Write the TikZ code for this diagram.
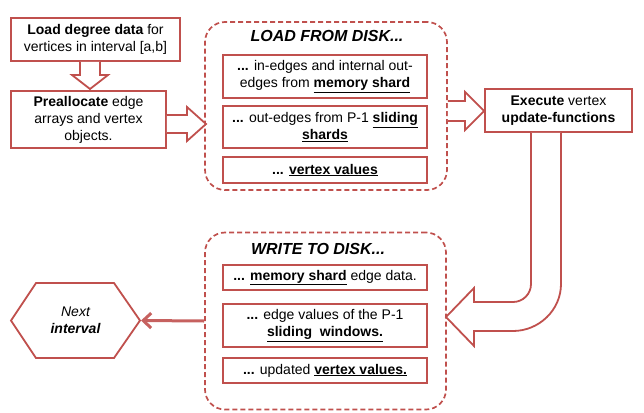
\documentclass[tikz,border=0pt]{standalone}
\usepackage{fontspec}
\setmainfont{Liberation Sans}
\usetikzlibrary{arrows.meta}
\definecolor{brick}{RGB}{192,80,77}
\tikzset{
  stepbox/.style={draw=brick, line width=1.8pt, fill=white, align=center,
    inner sep=0pt, font=\fontsize{14}{17}\selectfont},
  diskgroup/.style={draw=brick, line width=1.7pt, dash pattern=on 5pt off 3pt,
    rounded corners=20pt},
  grouptitle/.style={font=\fontsize{16}{19}\selectfont\bfseries\itshape},
  hollow/.style={draw=brick, line width=1.8pt, fill=white, line join=miter},
}

\begin{document}
\begin{tikzpicture}[x=1pt,y=-1pt]
  \useasboundingbox (0,0) rectangle (644,412);
  % left column
  \node[stepbox, minimum width=169pt, minimum height=43pt] (degree) at (95.5,39.5)
    {\textbf{Load degree data} for\\vertices in interval [a,b]};
  \node[stepbox, minimum width=155pt, minimum height=57pt] (prealloc) at (88.5,119.5)
    {\textbf{Preallocate} edge\\arrays and vertex\\objects.};
  % load from disk
  \node[diskgroup, minimum width=242pt, minimum height=168pt] (loadgrp) at (326,106) {};
  \node[grouptitle] (loadttl) at (327,36) {LOAD FROM DISK...};
  \node[stepbox, minimum width=204pt, minimum height=43pt] (memin) at (325,76.5)
    {\textbf{...} in-edges and internal out-\\edges from \textbf{\underline{memory shard}}};
  \node[stepbox, minimum width=204pt, minimum height=42pt] (slidein) at (325,127)
    {\textbf{...} out-edges from P-1 \textbf{\underline{sliding}}\\\textbf{\underline{shards}}};
  \node[stepbox, minimum width=204pt, minimum height=26pt] (vertin) at (325,170)
    {\textbf{... \underline{vertex values}}};
  % execute
  \node[stepbox, minimum width=147pt, minimum height=43pt] (exec) at (558.5,110.5)
    {\textbf{Execute} vertex\\\textbf{update-functions}};
  % write to disk
  \node[diskgroup, minimum width=241pt, minimum height=177pt] (writegrp) at (325.5,321) {};
  \node[grouptitle] (writettl) at (318,249) {WRITE TO DISK...};
  \node[stepbox, minimum width=204pt, minimum height=25pt] (memout) at (325,277.5)
    {\textbf{... \underline{memory shard}} edge data.};
  \node[stepbox, minimum width=204pt, minimum height=43pt] (slideout) at (325,325.5)
    {\textbf{...} edge values of the P-1\\\textbf{\underline{sliding\ \ windows.}}};
  \node[stepbox, minimum width=204pt, minimum height=25pt] (vertout) at (325,370.5)
    {\textbf{...} updated \textbf{\underline{vertex values.}}};
  % next interval
  \draw[hollow] (11,320.5) -- (36,283) -- (114,283) -- (140,320.5) -- (114,358)
    -- (36,358) -- cycle;
  \coordinate (nexttip) at (141,320.5);
  \node[align=center, font=\fontsize{14}{17}\selectfont\itshape] (next) at (75.5,320.5)
    {Next\\\textbf{interval}};
  % hollow arrows
  \draw[hollow] (80,61.8) -- (80,75) -- (72,75) -- (90,89) -- (108,75) -- (100,75)
    -- (100,61.8);
  \draw[hollow] (166.8,115) -- (187,115) -- (187,107) -- (206,124) -- (187,141)
    -- (187,133) -- (166.8,133);
  \draw[hollow] (447.8,101) -- (465,101) -- (465,92) -- (484.2,111) -- (465,130)
    -- (465,121) -- (447.8,121);
  \draw[hollow] (531,132.8) -- (531,284) .. controls (531,294) and (523,302) .. (513,302)
    -- (474,302) -- (474,288) -- (446,317) -- (474,346) -- (474,331) -- (513,331)
    .. controls (539,331) and (561,310) .. (561,284) -- (561,132.8);
  \draw[brick!90, line width=3pt, -{Straight Barb[length=8pt,width=15pt]}]
    (writegrp.west) -- (nexttip);
\end{tikzpicture}
\end{document}
